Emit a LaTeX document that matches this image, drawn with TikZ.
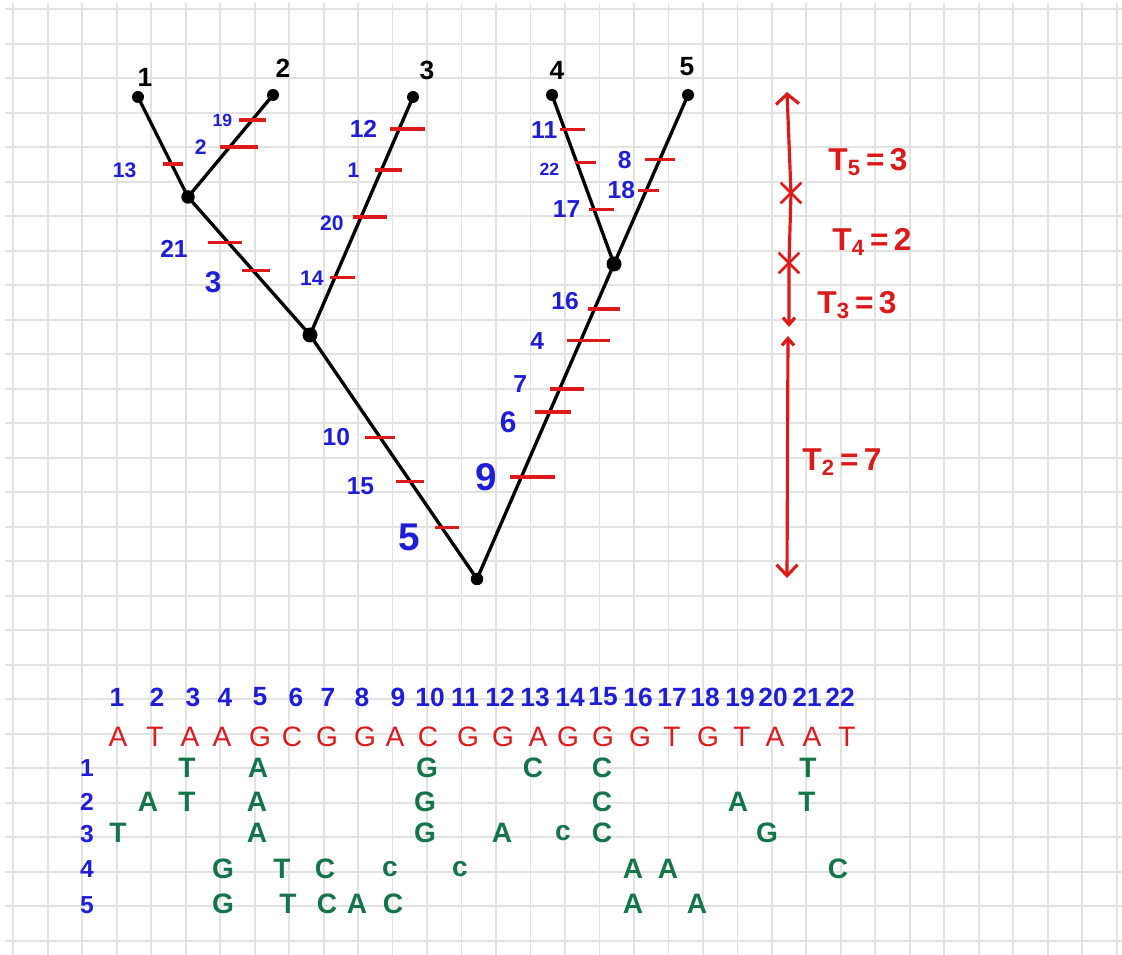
\documentclass[tikz,border=0pt]{standalone}
\usepackage{fontspec}
\setmainfont{Liberation Sans}
\usetikzlibrary{arrows.meta,shapes.misc}
\definecolor{InkBlue}{HTML}{1E1ED8}
\definecolor{InkRed}{HTML}{DD1A1A}
\definecolor{InkGreen}{HTML}{14744A}
\definecolor{GridGray}{HTML}{E2E2E2}

\begin{document}
\begin{tikzpicture}[x=0.02cm, y=-0.02cm, label distance=0.16cm,
    gridline/.style={draw=GridGray, line width=1pt},
    branch/.style={line width=1.9pt, line cap=round},
    leaf/.style={circle, fill=black, inner sep=0pt, minimum size=0.24cm},
    joint/.style={circle, fill=black, inner sep=0pt, minimum size=0.3cm},
    tipname/.style={font=\bfseries\fontsize{15}{15}\selectfont, inner sep=1pt},
    mutbar/.style={fill=InkRed, inner sep=0pt, minimum height=0.065cm, minimum width=#1},
    mutbar/.default=0.56cm,
    mutlab/.style={text=InkBlue, inner sep=1pt, font=\bfseries\fontsize{#1}{#1}\selectfont},
    mutlab/.default=14,
    timeline/.style={draw=InkRed, line width=1.8pt},
    cutmark/.style={cross out, draw=InkRed, line width=1.5pt, minimum size=0.36cm, inner sep=0pt},
    tlab/.style={text=InkRed, font=\bfseries\fontsize{18}{18}\selectfont, inner sep=1pt},
    colnum/.style={text=InkBlue, font=\bfseries\fontsize{15}{15}\selectfont, inner sep=1pt},
    rownum/.style={text=InkBlue, font=\bfseries\fontsize{14}{14}\selectfont, inner sep=1pt},
    anc/.style={text=InkRed, font=\fontsize{16}{16}\selectfont, inner sep=1pt},
    der/.style={text=InkGreen, font=\bfseries\fontsize{16}{16}\selectfont, inner sep=1pt}
  ]
    \fill[white] (0,0) rectangle (1122,955);
    \useasboundingbox (0,0) rectangle (1122,955);
    \foreach \i in {0,...,32} \draw[gridline] ({13.3+34.48*\i},3) -- ({13.3+34.48*\i},955);
    \foreach \j in {0,...,27} \draw[gridline] (5,{9.3+34.5*\j}) -- (1122,{9.3+34.5*\j});

    \node[leaf] (l1) at (138,97) {};
    \node[leaf] (l2) at (273,95) {};
    \node[leaf] (l3) at (413,97) {};
    \node[leaf] (l4) at (552,95) {};
    \node[leaf] (l5) at (688,95) {};
    \node[joint, minimum size=0.27cm] (n12) at (188,197) {};
    \node[joint] (n123) at (310,335) {};
    \node[joint] (n45) at (614,264) {};
    \node[leaf, minimum size=0.25cm] (root) at (477,579) {};

    \node[tipname] (t1) at (145,77) {1};
    \node[tipname] (t2) at (283,68) {2};
    \node[tipname] (t3) at (427,70) {3};
    \node[tipname] (t4) at (557,70) {4};
    \node[tipname] (t5) at (687,67) {5};

    \draw[branch] (l1.center) -- (n12.center)
      node[mutbar=0.4cm, pos=.67, xshift=0.03cm, label={[mutlab=12, xshift=-0.27cm, yshift=-0.12cm]left:13}] (m13) {};
    \draw[branch] (n12.center) -- (l2.center)
      node[mutbar=0.76cm, pos=.49, xshift=0.18cm, label={[mutlab=12]left:2}] (m2) {}
      node[mutbar=0.54cm, pos=.755, label={[mutlab=10, xshift=0.13cm]left:19}] (m19) {};
    \draw[branch] (n12.center) -- (n123.center)
      node[mutbar=0.68cm, pos=.33, xshift=-0.06cm, label={[mutlab, xshift=-0.15cm, yshift=-0.12cm]left:21}] (m21) {}
      node[mutbar, pos=.53, xshift=0.06cm, label={[mutlab=17, xshift=-0.14cm, yshift=-0.24cm]left:3}] (m3) {};
    \draw[branch] (n123.center) -- (l3.center)
      node[mutbar=0.5cm, pos=.24, xshift=0.16cm, label={[mutlab=12, xshift=0.13cm]left:14}] (m14) {}
      node[mutbar=0.68cm, pos=.496, xshift=0.18cm, label={[mutlab=12, xshift=0.07cm, yshift=-0.12cm]left:20}] (m20) {}
      node[mutbar=0.54cm, pos=.693, xshift=0.14cm, label={[mutlab=12, xshift=-0.05cm]left:1}] (m1) {}
      node[mutbar=0.7cm, pos=.866, xshift=0.17cm, label={[mutlab]left:12}] (m12) {};
    \draw[branch] (n123.center) -- (root.center)
      node[mutbar=0.6cm, pos=.42, label={[mutlab, xshift=-0.04cm]left:10}] (m10) {}
      node[mutbar, pos=.60, label={[mutlab, xshift=-0.18cm, yshift=-0.1cm]left:15}] (m15) {}
      node[mutbar=0.48cm, pos=.79, xshift=0.1cm, label={[mutlab=22, xshift=-0.04cm, yshift=-0.2cm]left:5}] (m5) {};
    \draw[branch] (l4.center) -- (n45.center)
      node[mutbar=0.5cm, pos=.206, xshift=0.16cm, label={[mutlab, xshift=0.2cm]left:11}] (m11) {}
      node[mutbar=0.42cm, pos=.40, xshift=0.18cm, label={[mutlab=10, xshift=-0.06cm, yshift=-0.14cm]left:22}] (m22) {}
      node[mutbar=0.5cm, pos=.676, xshift=0.16cm, label={[mutlab, xshift=0.08cm]left:17}] (m17) {};
    \draw[branch] (l5.center) -- (n45.center)
      node[mutbar=0.6cm, pos=.382, label={[mutlab]left:8}] (m8) {}
      node[mutbar=0.42cm, pos=.565, xshift=0.04cm, label={[mutlab, xshift=0.21cm]left:18}] (m18) {};
    \draw[branch] (n45.center) -- (root.center)
      node[mutbar=0.64cm, pos=.143, xshift=0.2cm, label={[mutlab, xshift=0.07cm, yshift=0.16cm]left:16}] (m16) {}
      node[mutbar=0.86cm, pos=.244, xshift=0.16cm, label={[mutlab, xshift=-0.2cm]left:4}] (m4) {}
      node[mutbar=0.68cm, pos=.397, xshift=0.14cm, label={[mutlab, xshift=-0.19cm, yshift=0.1cm]left:7}] (m7) {}
      node[mutbar=0.72cm, pos=.47, xshift=0.06cm, label={[mutlab=17, xshift=-0.1cm, yshift=-0.2cm]left:6}] (m6) {}
      node[mutbar=0.9cm, pos=.676, xshift=0.22cm, label={[mutlab=22]left:9}] (m9) {};

    \coordinate (ttop) at (787,92);
    \node[cutmark] (cut5) at (791,193) {};
    \node[cutmark] (cut4) at (789,263) {};
    \coordinate (t3end) at (789,327);
    \coordinate (t2top) at (788,336);
    \coordinate (tbot) at (787,578);
    \draw[timeline, {Straight Barb[length=0.2cm,width=0.46cm]}-{Straight Barb[length=0.14cm,width=0.24cm]}]
      (ttop) -- (cut5.center) -- (cut4.center) -- (t3end);
    \draw[timeline, {Straight Barb[length=0.14cm,width=0.24cm]}-{Straight Barb[length=0.22cm,width=0.42cm]}]
      (t2top) -- (tbot);
    \node[tlab] (tl5) at (868,162) {T\textsubscript{5}\,=\,3};
    \node[tlab] (tl4) at (872,242) {T\textsubscript{4}\,=\,2};
    \node[tlab] (tl3) at (857,305) {T\textsubscript{3}\,=\,3};
    \node[tlab] (tl2) at (842,462) {T\textsubscript{2}\,=\,7};

    \foreach \x [count=\i] in {117,157,193,225,260,296,328,362,398,430,465,500,535,570,603,638,672,705,740,773,807,840}
      \node[colnum] (c\i) at (\x,697) {\i};
    \foreach \x/\b [count=\i] in {118/A,155/T,190/A,222/A,260/G,292/C,327/G,365/G,395/A,428/C,468/G,503/G,538/A,568/G,603/G,640/G,672/T,708/G,742/T,775/A,812/A,847/T}
      \node[anc] (s\i) at (\x,737) {\b};
    \foreach \y [count=\r] in {768,802,834,869,905}
      \node[rownum] (row\r) at (87,\y) {\r};
    \foreach \x/\b [count=\k] in {187/T,258/A,427/G,533/C,602/C,808/T}
      \node[der] (d1-\k) at (\x,768) {\b};
    \foreach \x/\b [count=\k] in {148/A,187/T,257/A,425/G,602/C,738/A,807/T}
      \node[der] (d2-\k) at (\x,802) {\b};
    \foreach \x/\b [count=\k] in {118/T,257/A,425/G,502/A,563/c,602/C,767/G}
      \node[der] (d3-\k) at (\x,833) {\b};
    \foreach \x/\b [count=\k] in {223/G,282/T,325/C,390/c,460/c,633/A,668/A,838/C}
      \node[der] (d4-\k) at (\x,869) {\b};
    \foreach \x/\b [count=\k] in {223/G,288/T,327/C,357/A,393/C,633/A,697/A}
      \node[der] (d5-\k) at (\x,904) {\b};
  \end{tikzpicture}
\end{document}
